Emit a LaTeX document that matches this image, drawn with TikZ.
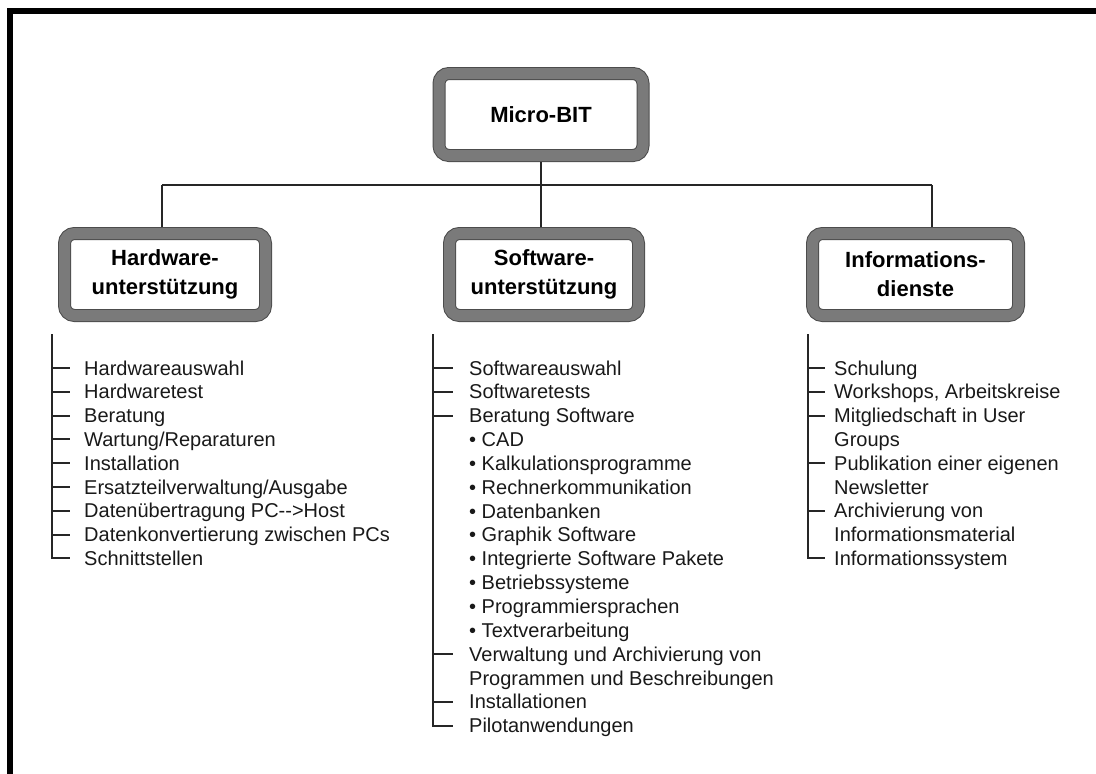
\documentclass[tikz,border=0pt]{standalone}
\usepackage{fontspec}
\setmainfont{Liberation Sans}
\usetikzlibrary{calc}
\begin{document}
\begin{tikzpicture}[x=1pt,y=-1pt,
  bigbox/.style={draw=black!70, double=black!52, double distance=11pt, line width=1pt,
    rounded corners=10pt, fill=white, minimum width=#1, minimum height=82pt, outer sep=6.5pt,
    align=center, inner sep=0pt, font=\fontsize{22}{29}\selectfont\bfseries},
  item/.style={anchor=west, inner sep=0pt, text height=14.5pt, text depth=0.5pt,
    font=\fontsize{20}{24}\selectfont, text=black!90},
  conn/.style={line width=2.1pt, draw=black!85},
  frame/.style={fill=black, draw=none}]
\useasboundingbox (0,0) rectangle (1096,774);
% page frame (top and left)
\fill[frame] (7,8) rectangle (1096,14);
\fill[frame] (7,8) rectangle (13,774);

% boxes
\node[bigbox=204] (micro) at (541,114.5) {Micro-BIT};
\node[bigbox=201] (hw) at (165,274.5) {Hardware-\\unterstützung};
\node[bigbox=189] (sw) at (544,274.5) {Software-\\unterstützung};
\node[bigbox=206] (info) at (915.5,274.5) {Informations-\\dienste};

% top connectors
\coordinate (bus) at (541,185);
\coordinate (busL) at (162,185);
\coordinate (busR) at (932,185);
\draw[conn] (micro.south) -- (bus);
\draw[conn] (busL) -- (busR);
\draw[conn] (busL) -- (busL |- hw.north);
\draw[conn] (bus) -- (bus |- sw.north);
\draw[conn] (busR) -- (busR |- info.north);

% Hardware list
\node[item] (h1) at (84,368) {Hardwareauswahl};
\node[item] (h2) at (84,391.8) {Hardwaretest};
\node[item] (h3) at (84,415.6) {Beratung};
\node[item] (h4) at (84,439.4) {Wartung/Reparaturen};
\node[item] (h5) at (84,463.2) {Installation};
\node[item] (h6) at (84,487) {Ersatzteilverwaltung/Ausgabe};
\node[item] (h7) at (84,510.8) {Datenübertragung PC-{}->Host};
\node[item] (h8) at (84,534.6) {Datenkonvertierung zwischen PCs};
\node[item] (h9) at (84,558.4) {Schnittstellen};
\coordinate (htop) at (52,334);
\draw[conn] (htop) |- ($(h9.west)+(-14,0)$);
\foreach \i in {1,...,8} \draw[conn] (htop |- h\i.west) -- ($(h\i.west)+(-14,0)$);

% Software list
\node[item] (s1) at (469,368) {Softwareauswahl};
\node[item] (s2) at (469,391.85) {Softwaretests};
\node[item] (s3) at (469,415.7) {Beratung Software};
\node[item] (s4) at (469,439.55) {• CAD};
\node[item] (s5) at (469,463.4) {• Kalkulationsprogramme};
\node[item] (s6) at (469,487.25) {• Rechnerkommunikation};
\node[item] (s7) at (469,511.1) {• Datenbanken};
\node[item] (s8) at (469,534.95) {• Graphik Software};
\node[item] (s9) at (469,558.8) {• Integrierte Software Pakete};
\node[item] (s10) at (469,582.65) {• Betriebssysteme};
\node[item] (s11) at (469,606.5) {• Programmiersprachen};
\node[item] (s12) at (469,630.35) {• Textverarbeitung};
\node[item] (s13) at (469,654.2) {Verwaltung und Archivierung von};
\node[item] (s14) at (469,678.05) {Programmen und Beschreibungen};
\node[item] (s15) at (469,701.9) {Installationen};
\node[item] (s16) at (469,725.75) {Pilotanwendungen};
\coordinate (stop) at (433,334);
\draw[conn] (stop) |- ($(s16.west)+(-16,0)$);
\foreach \i in {1,2,3,13,15} \draw[conn] (stop |- s\i.west) -- ($(s\i.west)+(-16,0)$);

% Informationsdienste list
\node[item] (i1) at (834,368) {Schulung};
\node[item] (i2) at (834,391.8) {Workshops, Arbeitskreise};
\node[item] (i3) at (834,415.6) {Mitgliedschaft in User};
\node[item] (i4) at (834,439.4) {Groups};
\node[item] (i5) at (834,463.2) {Publikation einer eigenen};
\node[item] (i6) at (834,487) {Newsletter};
\node[item] (i7) at (834,510.8) {Archivierung von};
\node[item] (i8) at (834,534.6) {Informationsmaterial};
\node[item] (i9) at (834,558.4) {Informationssystem};
\coordinate (itop) at (808,334);
\draw[conn] (itop) |- ($(i9.west)+(-9,0)$);
\foreach \i in {1,2,3,5,7} \draw[conn] (itop |- i\i.west) -- ($(i\i.west)+(-9,0)$);
\end{tikzpicture}
\end{document}
